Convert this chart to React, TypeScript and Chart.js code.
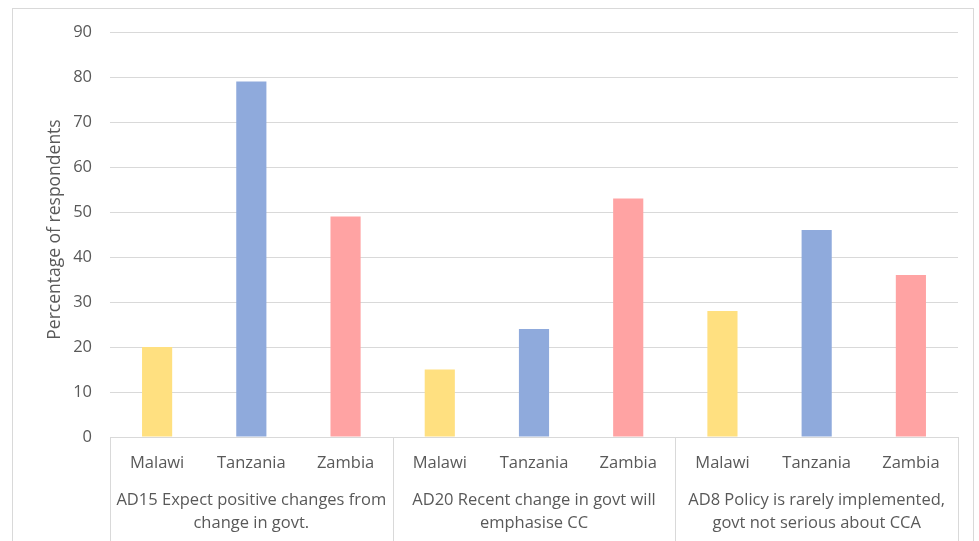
import React, { useEffect, useRef } from "react";
import { Chart, registerables } from "chart.js";

Chart.register(...registerables);

const categories = ["Malawi", "Tanzania", "Zambia", "Malawi", "Tanzania", "Zambia", "Malawi", "Tanzania", "Zambia"];
const groupLabels: string[][] = [
  ["AD15 Expect positive changes from", "change in govt."],
  ["AD20 Recent change in govt will", "emphasise CC"],
  ["AD8 Policy is rarely implemented,", "govt not serious about CCA"],
];
const values = [20, 79, 49, 15, 24, 53, 28, 46, 36];
const countryColors: Record<string, string> = {
  Malawi: "#FFE080",
  Tanzania: "#8FAADC",
  Zambia: "#FFA3A3",
};
const yTicks = [0, 10, 20, 30, 40, 50, 60, 70, 80, 90];
const yTitle = "Percentage of respondents";

const FONT = "'Open Sans', 'Liberation Sans', sans-serif";
const TEXT = "#595959";
const GRID = "#D9D9D9";

const multiAxisPlugin = {
  id: "multiAxis",
  afterDraw(chart: any) {
    const { ctx, chartArea, scales } = chart;
    const x = scales.x;
    const bottom = chartArea.bottom;
    ctx.save();
    ctx.strokeStyle = GRID;
    ctx.lineWidth = 1;
    ctx.beginPath();
    ctx.moveTo(chartArea.left, bottom + 0.5);
    ctx.lineTo(chartArea.right, bottom + 0.5);
    const n = categories.length;
    const dividers: number[] = [chartArea.left];
    for (let g = 1; g < groupLabels.length; g++) {
      const i = g * 3;
      dividers.push((x.getPixelForTick(i - 1) + x.getPixelForTick(i)) / 2);
    }
    dividers.push(chartArea.right);
    dividers.forEach((d) => {
      const xx = Math.round(d) + 0.5;
      ctx.moveTo(xx, bottom);
      ctx.lineTo(xx, chart.height + 10);
    });
    ctx.stroke();

    ctx.fillStyle = TEXT;
    ctx.textAlign = "center";
    ctx.textBaseline = "middle";
    ctx.font = `16.5px ${FONT}`;
    for (let i = 0; i < n; i++) {
      ctx.fillText(categories[i], x.getPixelForTick(i), bottom + 26);
    }
    groupLabels.forEach((lines, g) => {
      const cx = (dividers[g] + dividers[g + 1]) / 2;
      lines.forEach((l, k) => {
        ctx.fillText(l, cx, bottom + 63 + k * 23);
      });
    });

    // y-axis title
    ctx.save();
    ctx.translate(55, (chartArea.top + chartArea.bottom) / 2 - 5);
    ctx.rotate(-Math.PI / 2);
    ctx.font = `17.5px ${FONT}`;
    ctx.fillText(yTitle, 0, 0);
    ctx.restore();
    ctx.restore();
  },
};

export default function App() {
  const ref = useRef<HTMLCanvasElement>(null);
  useEffect(() => {
    if (!ref.current) return;
    const chart = new Chart(ref.current, {
      type: "bar",
      data: {
        labels: categories,
        datasets: [
          {
            data: values,
            backgroundColor: categories.map((c) => countryColors[c]),
            barPercentage: 0.64,
            categoryPercentage: 0.5,
          },
        ],
      },
      options: {
        animation: false,
        responsive: false,
        devicePixelRatio: 1,
        layout: { padding: { top: 32, right: 21, left: 45, bottom: 0 } },
        plugins: { legend: { display: false }, tooltip: { enabled: false } },
        scales: {
          x: {
            ticks: { display: false },
            grid: { display: false },
            border: { display: false },
            afterFit: (s: any) => {
              s.height = 104;
            },
          },
          y: {
            min: 0,
            max: 90,
            afterBuildTicks: (s: any) => {
              s.ticks = yTicks.map((v) => ({ value: v }));
            },
            ticks: {
              color: TEXT,
              font: { family: FONT, size: 16.5 },
              padding: 18,
            },
            grid: { color: GRID, drawTicks: false, lineWidth: 1 },
            border: { display: false },
            title: { display: false },
            afterFit: (s: any) => {
              s.width = 65;
            },
          },
        },
      },
      plugins: [multiAxisPlugin],
    });
    return () => chart.destroy();
  }, []);
  return (
    <div style={{ position: "fixed", left: 0, top: 0, width: 979, height: 541, background: "#fff", overflow: "hidden" }}>
      <div
        style={{
          position: "absolute",
          left: 12,
          top: 8,
          width: 962,
          height: 560,
          border: "1px solid #D9D9D9",
          boxSizing: "border-box",
        }}
      />
      <canvas ref={ref} width={979} height={541} style={{ position: "absolute", left: 0, top: 0 }} />
    </div>
  );
}
